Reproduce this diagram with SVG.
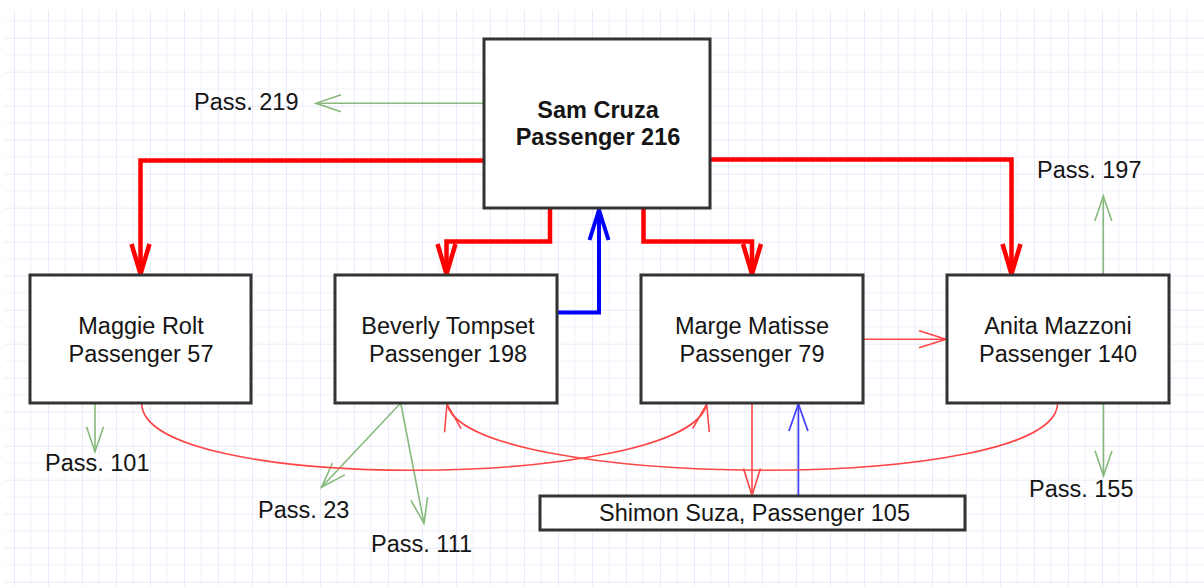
<svg xmlns="http://www.w3.org/2000/svg" width="1204" height="586" viewBox="0 0 1204 586">
<style>
.box{fill:#ffffff;stroke:#333333;stroke-width:3}
.t{font-family:"Liberation Sans",Arial,sans-serif;font-size:23.5px;fill:#151515}
.c{text-anchor:middle}
.b{font-weight:bold}
.thick-red{fill:none;stroke:#ff0000;stroke-width:4.5}
.thick-blue{fill:none;stroke:#0000ff;stroke-width:4}
.red{fill:none;stroke:#ff4646;stroke-width:1.6}
.blue{fill:none;stroke:#4545ff;stroke-width:1.8}
.green{fill:none;stroke:#88b97c;stroke-width:1.6}
</style>
<defs>
<pattern id="grid" patternUnits="userSpaceOnUse" x="14" y="37.7" width="34" height="34">
<rect x="-0.6" y="0" width="1.4" height="34" fill="#e4e4fb"/>
<rect x="16.5" y="0" width="1" height="34" fill="#efeffd"/>
<rect x="0" y="-0.6" width="34" height="1.4" fill="#e4e4fb"/>
<rect x="0" y="16.5" width="34" height="1" fill="#efeffd"/>
</pattern>
<marker id="mRedThick" viewBox="-34 -13 36 26" refX="0" refY="0" markerWidth="36" markerHeight="26" markerUnits="userSpaceOnUse" orient="auto">
<path d="M-31,-9 L-1,0 L-31,9" fill="none" stroke="#ff0000" stroke-width="4.5" stroke-linejoin="round"/>
</marker>
<marker id="mBlueThick" viewBox="-34 -13 36 26" refX="0" refY="0" markerWidth="36" markerHeight="26" markerUnits="userSpaceOnUse" orient="auto">
<path d="M-31,-9.5 L-1,0 L-31,9.5" fill="none" stroke="#0000ff" stroke-width="4" stroke-linejoin="round"/>
</marker>
<marker id="mRed" viewBox="-30 -11 32 22" refX="0" refY="0" markerWidth="32" markerHeight="22" markerUnits="userSpaceOnUse" orient="auto">
<path d="M-27,-8.5 L0,0 L-27,8.5" fill="none" stroke="#ff4646" stroke-width="1.6"/>
</marker>
<marker id="mBlue" viewBox="-30 -11 32 22" refX="0" refY="0" markerWidth="32" markerHeight="22" markerUnits="userSpaceOnUse" orient="auto">
<path d="M-27,-9.5 L0,0 L-27,9.5" fill="none" stroke="#4545ff" stroke-width="1.8"/>
</marker>
<marker id="mGreen" viewBox="-30 -11 32 22" refX="0" refY="0" markerWidth="32" markerHeight="22" markerUnits="userSpaceOnUse" orient="auto">
<path d="M-25,-8.5 L0,0 L-25,8.5" fill="none" stroke="#88b97c" stroke-width="1.6"/>
</marker>
</defs>
<rect x="0" y="0" width="1204" height="586" fill="#ffffff"/>
<rect x="5" y="10" width="1199" height="576" fill="url(#grid)"/>

<g id="connectors">
<path class="thick-red" d="M484,160.5 H140.5 V275" marker-end="url(#mRedThick)"/>
<path class="thick-red" d="M550,208 V241.5 H446.5 V275" marker-end="url(#mRedThick)"/>
<path class="thick-red" d="M643.5,208 V241.5 H752 V275" marker-end="url(#mRedThick)"/>
<path class="thick-red" d="M710,159.5 H1011.5 V275" marker-end="url(#mRedThick)"/>
<path class="thick-blue" d="M557,312.5 H599 V209" marker-end="url(#mBlueThick)"/>
<path class="green" d="M484,103.3 H316" marker-end="url(#mGreen)"/>
<path class="green" d="M1103.3,275 V196" marker-end="url(#mGreen)"/>
<path class="green" d="M1103.5,403 V475.7" marker-end="url(#mGreen)"/>
<path class="green" d="M95,403 V451.7" marker-end="url(#mGreen)"/>
<path class="green" d="M400.7,403 L321.5,487.3" marker-end="url(#mGreen)"/>
<path class="green" d="M400.7,403 L424,523.3" marker-end="url(#mGreen)"/>
<path class="red" d="M862,339.3 H946" marker-end="url(#mRed)"/>
<path class="red" d="M752,403 V495.5" marker-end="url(#mRed)"/>
<path class="blue" d="M798.4,496 V404" marker-end="url(#mBlue)"/>
<path class="red" d="M141.6,403 C141.6,495 688,490 706.7,404" marker-end="url(#mRed)"/>
<path class="red" d="M1057.6,403 C1057.6,495 466,490 447,404" marker-end="url(#mRed)"/>
</g>

<g id="sam">
<rect class="box" x="484" y="39" width="226" height="169"/>
<text class="t c b" x="598" y="118">Sam Cruza</text>
<text class="t c b" x="598" y="145">Passenger 216</text>
</g>
<g id="maggie">
<rect class="box" x="30" y="275" width="221" height="128"/>
<text class="t c" x="141" y="334">Maggie Rolt</text>
<text class="t c" x="141" y="361.5">Passenger 57</text>
</g>
<g id="beverly">
<rect class="box" x="335" y="275" width="222" height="128"/>
<text class="t c" x="448" y="334">Beverly Tompset</text>
<text class="t c" x="448" y="361.5">Passenger 198</text>
</g>
<g id="marge">
<rect class="box" x="641" y="275" width="222" height="128"/>
<text class="t c" x="752" y="334">Marge Matisse</text>
<text class="t c" x="752" y="361.5">Passenger 79</text>
</g>
<g id="anita">
<rect class="box" x="947" y="275" width="222" height="128"/>
<text class="t c" x="1058" y="334">Anita Mazzoni</text>
<text class="t c" x="1058" y="361.5">Passenger 140</text>
</g>
<g id="shimon">
<rect class="box" x="540" y="496" width="425" height="34"/>
<text class="t c" x="754.5" y="521">Shimon Suza, Passenger 105</text>
</g>
<g id="pass219"><text class="t" x="194" y="110">Pass. 219</text></g>
<g id="pass197"><text class="t" x="1037" y="178">Pass. 197</text></g>
<g id="pass101"><text class="t" x="45" y="471">Pass. 101</text></g>
<g id="pass23"><text class="t" x="258" y="518">Pass. 23</text></g>
<g id="pass111"><text class="t" x="371" y="552">Pass. 111</text></g>
<g id="pass155"><text class="t" x="1029" y="497">Pass. 155</text></g>
</svg>
